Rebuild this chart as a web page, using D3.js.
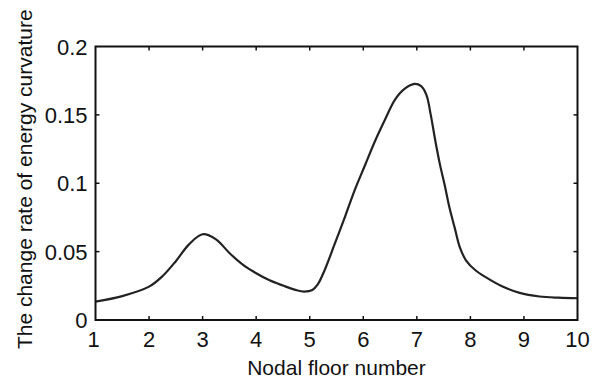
<!DOCTYPE html>
<html>
<head>
<meta charset="utf-8">
<script src="https://cdn.jsdelivr.net/npm/d3@7"></script>
<style>
  html, body { margin: 0; padding: 0; background: #fff; }
  svg { display: block; }
  text { font-family: "Liberation Sans", Arial, Helvetica, sans-serif; fill: #111; }
</style>
</head>
<body>
<svg id="chart" width="602" height="383"></svg>
<script>
// Nodal floor positions and the change rate of energy curvature along the curve
const floorPos = [1.0, 1.5, 2.0, 2.25, 2.5, 2.75, 3.0, 3.25, 3.5, 3.75, 4.0, 4.25, 4.5, 4.75, 4.9, 5.05, 5.15, 5.28, 5.47, 5.66, 5.84, 6.03, 6.21, 6.4, 6.59, 6.77, 6.96, 7.08, 7.18, 7.26, 7.35, 7.43, 7.52, 7.61, 7.71, 7.8, 7.92, 8.1, 8.3, 8.6, 8.92, 9.29, 9.65, 10.0];
const rateValues = [0.0134, 0.0175, 0.0244, 0.032, 0.043, 0.0555, 0.0627, 0.059, 0.049, 0.0405, 0.0342, 0.029, 0.0252, 0.0218, 0.0208, 0.022, 0.026, 0.0366, 0.056, 0.0756, 0.095, 0.113, 0.13, 0.146, 0.161, 0.169, 0.1726, 0.171, 0.1645, 0.15, 0.13, 0.114, 0.0987, 0.082, 0.067, 0.0535, 0.0435, 0.0362, 0.031, 0.0245, 0.0198, 0.0172, 0.0163, 0.0159];

const xTicks = [1, 2, 3, 4, 5, 6, 7, 8, 9, 10];
const yTicks = [0, 0.05, 0.1, 0.15, 0.2];
const yTickLabels = ["0", "0.05", "0.1", "0.15", "0.2"];

const xTitle = "Nodal floor number";
const yTitle = "The change rate of energy curvature";

const svg = d3.select("#chart");
const W = 602, H = 383;
const margin = { left: 95.5, right: W - 577.5, top: 46.5, bottom: H - 320 };
const x = d3.scaleLinear().domain([1, 10]).range([margin.left, W - margin.right]);
const y = d3.scaleLinear().domain([0, 0.2]).range([H - margin.bottom, margin.top]);

const tickFont = 22;
const titleFont = 21;
const tickLen = 4;

// inward ticks on all four sides
const g = svg.append("g");
const inner = xTicks.slice(1, -1);
const innerY = yTicks.slice(1, -1);
g.selectAll("line.xb").data(inner).enter().append("line")
  .attr("x1", d => x(d)).attr("x2", d => x(d))
  .attr("y1", y(0)).attr("y2", y(0) - tickLen)
  .attr("stroke", "#111").attr("stroke-width", 1.5);
g.selectAll("line.xt").data(inner).enter().append("line")
  .attr("x1", d => x(d)).attr("x2", d => x(d))
  .attr("y1", y(0.2)).attr("y2", y(0.2) + tickLen)
  .attr("stroke", "#111").attr("stroke-width", 1.5);
g.selectAll("line.yl").data(innerY).enter().append("line")
  .attr("x1", x(1)).attr("x2", x(1) + tickLen)
  .attr("y1", d => y(d)).attr("y2", d => y(d))
  .attr("stroke", "#111").attr("stroke-width", 1.5);
g.selectAll("line.yr").data(innerY).enter().append("line")
  .attr("x1", x(10)).attr("x2", x(10) - tickLen)
  .attr("y1", d => y(d)).attr("y2", d => y(d))
  .attr("stroke", "#111").attr("stroke-width", 1.5);

// tick labels
svg.selectAll("text.xl").data(xTicks).enter().append("text")
  .attr("x", d => x(d) - (d === 1 ? 2 : 0))
  .attr("y", y(0) + 27)
  .attr("text-anchor", "middle")
  .attr("font-size", tickFont)
  .text(d => d);
svg.selectAll("text.yl").data(yTicks).enter().append("text")
  .attr("x", x(1) - 8)
  .attr("y", d => y(d) + 8)
  .attr("text-anchor", "end")
  .attr("font-size", tickFont)
  .text((d, i) => yTickLabels[i]);

// curve
const line = d3.line()
  .x((d, i) => x(floorPos[i]))
  .y(d => y(d))
  .curve(d3.curveCatmullRom.alpha(0.5));
svg.append("path")
  .datum(rateValues)
  .attr("d", line)
  .attr("fill", "none")
  .attr("stroke", "#222")
  .attr("stroke-width", 2.2);

// frame
svg.append("rect")
  .attr("x", x(1)).attr("y", y(0.2))
  .attr("width", x(10) - x(1)).attr("height", y(0) - y(0.2))
  .attr("fill", "none").attr("stroke", "#111").attr("stroke-width", 2);

// axis titles
svg.append("text")
  .attr("x", (x(1) + x(10)) / 2)
  .attr("y", 375)
  .attr("text-anchor", "middle")
  .attr("font-size", titleFont)
  .text(xTitle);
svg.append("text")
  .attr("transform", `translate(32,${(y(0) + y(0.2)) / 2 - 4}) rotate(-90)`)
  .attr("text-anchor", "middle")
  .attr("font-size", titleFont)
  .text(yTitle);
</script>
</body>
</html>
